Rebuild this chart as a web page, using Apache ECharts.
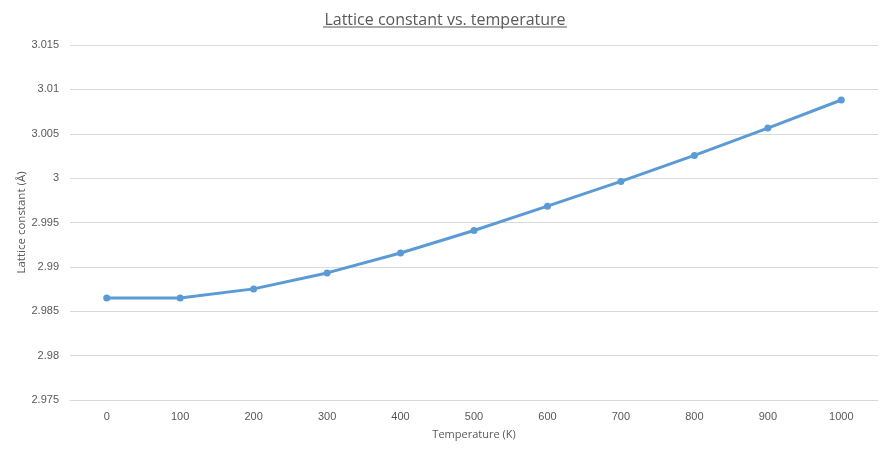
<!DOCTYPE html>
<html><head><meta charset="utf-8">
<script src="https://cdn.jsdelivr.net/npm/echarts@6/dist/echarts.min.js"></script>
<style>html,body{margin:0;padding:0;background:#fff}#c{width:890px;height:449px}</style>
</head><body><div id="c"></div>
<script>
const temperatures = ['0','100','200','300','400','500','600','700','800','900','1000'];
const latticeConstant = [2.98650, 2.98650, 2.98752, 2.98932, 2.99156, 2.99410, 2.99684, 2.99963, 3.00256, 3.00564, 3.00880];
const titleText = 'Lattice constant vs. temperature';
const xName = 'Temperature (K)';
const yName = 'Lattice constant (Å)';

const chart = echarts.init(document.getElementById('c'));
const fontTick = '"Liberation Sans", Arial, sans-serif';
const fontTitle = '"Open Sans", "Noto Sans", sans-serif';
chart.setOption({
  animation: false,
  title: {
    text: titleText, left: 'center', top: 7,
    textStyle: { fontFamily: fontTitle, fontSize: 16, fontWeight: 'normal', color: '#595959' }
  },
  graphic: [{
    type: 'line', shape: { x1: 323, y1: 27, x2: 567, y2: 27 },
    style: { stroke: '#595959', lineWidth: 1 }
  }],
  grid: { left: 70, right: 12, top: 45, bottom: 49 },
  xAxis: {
    type: 'category', data: temperatures, boundaryGap: true,
    name: xName, nameLocation: 'middle', nameGap: 29,
    nameTextStyle: { fontFamily: fontTitle, fontSize: 11, color: '#595959' },
    axisLine: { show: true, lineStyle: { color: '#d9d9d9' } },
    axisTick: { show: false },
    axisLabel: { fontFamily: fontTick, fontSize: 11, color: '#595959', margin: 11 }
  },
  yAxis: {
    type: 'value', min: 2.975, max: 3.015, interval: 0.005,
    name: yName, nameLocation: 'middle', nameGap: 42, nameMoveOverlap: false,
    nameTextStyle: { fontFamily: fontTitle, fontSize: 11.5, color: '#595959' },
    axisLine: { show: false }, axisTick: { show: false },
    axisLabel: { fontFamily: fontTick, fontSize: 11, color: '#595959', margin: 11,
      formatter: v => String(parseFloat(v.toFixed(3))) },
    splitLine: { lineStyle: { color: '#d9d9d9' } }
  },
  series: [{
    type: 'line', data: latticeConstant,
    symbol: 'circle', symbolSize: 7,
    lineStyle: { color: '#5B9BD5', width: 3 },
    itemStyle: { color: '#5B9BD5' }
  }]
});
</script></body></html>
